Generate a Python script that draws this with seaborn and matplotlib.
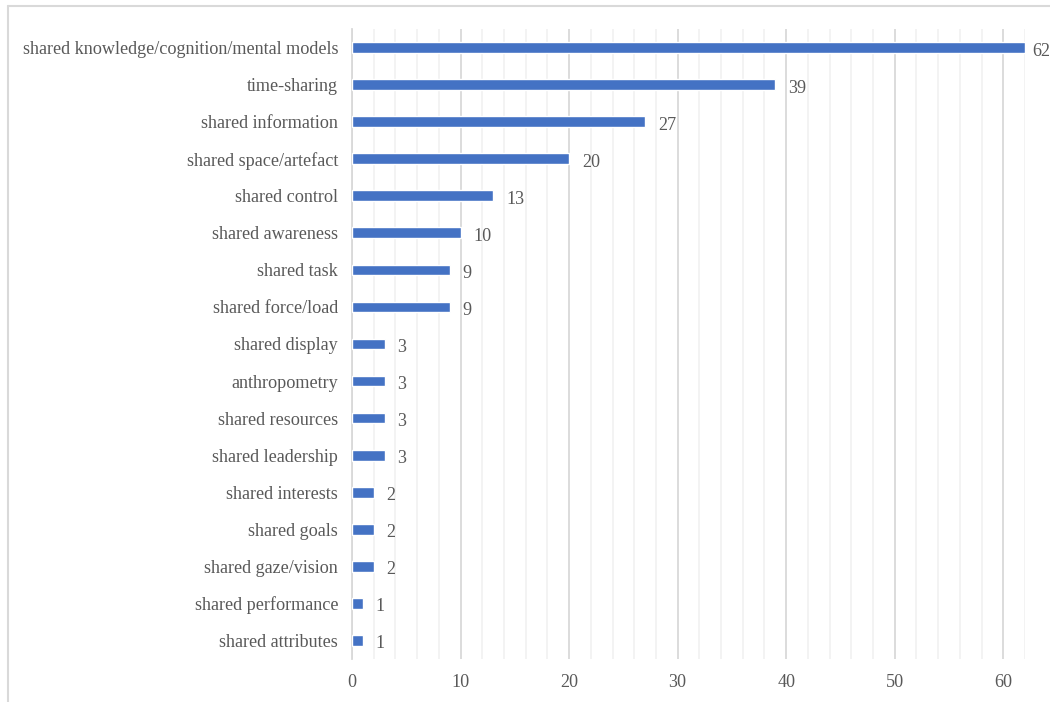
import matplotlib
matplotlib.use("Agg")
import matplotlib.pyplot as plt
from matplotlib.lines import Line2D
from matplotlib.ticker import MultipleLocator, FixedLocator
import seaborn as sns
import pandas as pd

categories = [
    "shared knowledge/cognition/mental models",
    "time-sharing",
    "shared information",
    "shared space/artefact",
    "shared control",
    "shared awareness",
    "shared task",
    "shared force/load",
    "shared display",
    "anthropometry",
    "shared resources",
    "shared leadership",
    "shared interests",
    "shared goals",
    "shared gaze/vision",
    "shared performance",
    "shared attributes",
]
counts = [62, 39, 27, 20, 13, 10, 9, 9, 3, 3, 3, 3, 2, 2, 2, 1, 1]
x_ticks = [0, 10, 20, 30, 40, 50, 60]

df = pd.DataFrame({"category": categories, "count": counts})

sns.set_theme(style="white")
plt.rcParams["font.family"] = ["Liberation Serif", "DejaVu Serif"]

W, H = 1050, 702
fig = plt.figure(figsize=(W / 100, H / 100), dpi=100)
ax = fig.add_axes([352 / W, 1 - 659 / H, (1025 - 352) / W, (659 - 29) / H])

sns.barplot(data=df, x="count", y="category", orient="h", color="#4472C4",
            width=0.29, saturation=1, ax=ax, zorder=3)

ax.set_xlim(0, 62)
ax.set_ylim(len(categories) - 0.5, -0.5)
ax.set_xlabel("")
ax.set_ylabel("")

txt_color = "#595959"
fs = 13.1
ax.xaxis.set_major_locator(FixedLocator(x_ticks))
ax.xaxis.set_minor_locator(MultipleLocator(2))
ax.grid(which="major", axis="x", color="#D9D9D9", linewidth=1.3, zorder=0)
ax.grid(which="minor", axis="x", color="#F2F2F2", linewidth=1.3, zorder=0)
ax.tick_params(axis="x", which="both", length=0, labelsize=fs, labelcolor=txt_color, pad=11)
ax.tick_params(axis="y", which="major", length=0, labelsize=fs, labelcolor=txt_color, pad=10)
ax.yaxis.set_minor_locator(FixedLocator([i + 0.5 for i in range(-1, len(categories))]))
ax.tick_params(axis="y", which="minor", length=5, width=1.2, color="#D9D9D9")
for lab in ax.get_yticklabels():
    lab.set_verticalalignment("center_baseline")

for s in ["top", "right", "bottom"]:
    ax.spines[s].set_visible(False)
ax.spines["left"].set_color("#D9D9D9")
ax.spines["left"].set_linewidth(1.3)

for i, v in enumerate(counts):
    ax.text(min(v + 1.2, 62.7), i + 0.04, str(v), va="center_baseline", ha="left",
            fontsize=fs, color=txt_color, clip_on=False)

# outer chart frame
fig.add_artist(Line2D([8 / W, 8 / W], [0, 1 - 6 / H], transform=fig.transFigure,
                      color="#D9D9D9", linewidth=1.5))
fig.add_artist(Line2D([8 / W, 1], [1 - 6 / H, 1 - 6 / H], transform=fig.transFigure,
                      color="#D9D9D9", linewidth=1.5))

fig.savefig("out.png", dpi=100)
